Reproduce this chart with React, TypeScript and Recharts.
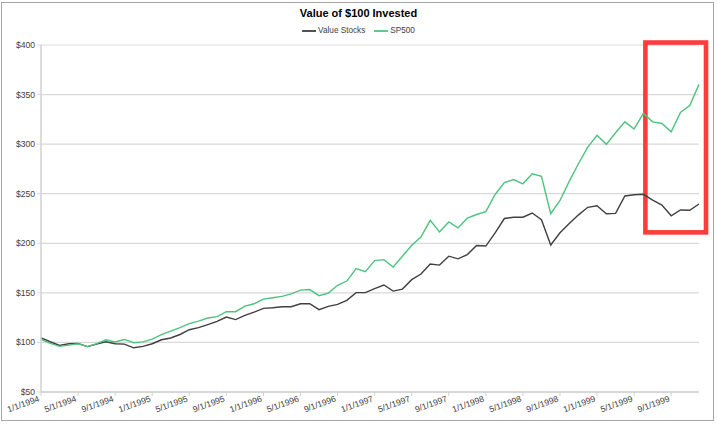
import React from 'react';
import { LineChart, Line, XAxis, YAxis, CartesianGrid, Legend, ReferenceArea } from 'recharts';

const years = [1994, 1995, 1996, 1997, 1998, 1999];
const dates: string[] = years.flatMap((y) => Array.from({ length: 12 }, (_, m) => `${m + 1}/1/${y}`));

const valueStocks = [
  104.7, 100.7, 97, 98.7, 99, 95.8, 98.3, 100.7, 98.7, 98.3, 94.6, 96,
  98.7, 102.7, 104.5, 108, 112.8, 115, 118, 121.2, 125.6, 123, 127.3, 130.6,
  134.3, 135, 136, 136, 139, 139, 133, 136.4, 138.4, 142.4, 150.2, 150.2,
  154.2, 157.9, 151.8, 153.8, 163.3, 169, 179.1, 178, 187, 184.3, 188.6, 197.7,
  197.2, 210.4, 225, 226.2, 226.3, 230.5, 223.8, 198.3, 210.6, 220, 228.7, 236.3,
  237.9, 229.8, 230.2, 247.7, 249, 249.4, 243.6, 238.6, 227.8, 233.6, 233.3, 239.6,
];

const sp500 = [
  103, 99, 96, 97.3, 98.7, 95.8, 98.7, 102.7, 100.5, 103, 99.7, 100.5,
  103.3, 107.8, 111.5, 115, 119, 121.5, 124.6, 126, 131, 131, 136.7, 139,
  143.7, 145, 146.5, 149, 152.8, 153.3, 147.2, 149.8, 157.6, 161.9, 174.4, 171.4,
  182.5, 183.5, 176, 186.9, 198, 206.4, 223.2, 211.4, 221.5, 215.5, 225.3, 229,
  232, 249.2, 261.2, 264.3, 260, 270, 267.5, 229.8, 243.2, 262.5, 280.5, 297,
  309, 299.8, 311.5, 322.5, 315.3, 331, 322.5, 320.8, 312.5, 332, 339, 360.3,
];

const yTicks = [50, 100, 150, 200, 250, 300, 350, 400];
const seriesNames = ['Value Stocks', 'SP500'];
const seriesColors = ['#404040', '#4cc47e'];

const data = dates.map((d, i) => ({ date: d, value: valueStocks[i], sp: sp500[i] }));

const FONT = '"Liberation Sans", Arial, sans-serif';
const TICK_COLOR = '#404040';

const XTick = (props: any) => {
  const { x, y, payload } = props;
  return (
    <g transform={`translate(${x},${y})`}>
      <text
        transform="translate(-1,3) rotate(-20)"
        x={0}
        y={0}
        textAnchor="end"
        fill={TICK_COLOR}
        fontSize={8.6}
        fontFamily={FONT}
      >
        {payload.value}
      </text>
    </g>
  );
};

const LegendContent = () => (
  <div
    style={{
      display: 'flex',
      justifyContent: 'center',
      alignItems: 'center',
      height: 10,
      lineHeight: '10px',
      fontSize: 8.2,
      fontFamily: FONT,
      color: '#404040',
    }}
  >
    {seriesNames.map((n, i) => (
      <span key={n} style={{ display: 'flex', alignItems: 'center', marginRight: i === 0 ? 9 : 0 }}>
        <svg width={14} height={4} style={{ marginRight: 2 }}>
          <line x1={0} y1={2} x2={14} y2={2} stroke={seriesColors[i]} strokeWidth={1.8} />
        </svg>
        <span>{n}</span>
      </span>
    ))}
  </div>
);

const RedBox = (p: any) => (
  <rect
    x={p.x + 2}
    y={p.y}
    width={p.width + 5}
    height={p.height}
    fill="none"
    stroke="#ff3b3b"
    strokeWidth={4.6}
  />
);

export default function App() {
  return (
    <div
      style={{
        position: 'absolute',
        left: 0,
        top: 0,
        width: 717,
        height: 424,
        background: '#fff',
        fontFamily: FONT,
      }}
    >
      <div
        style={{
          position: 'absolute',
          left: 1,
          top: 2,
          width: 711,
          height: 417,
          border: '1px solid #a6a6a6',
        }}
      />
      <div
        style={{
          position: 'absolute',
          left: 0,
          top: 7,
          width: 717,
          textAlign: 'center',
          fontSize: 11,
          lineHeight: '13px',
          fontWeight: 'bold',
          color: '#000',
        }}
      >
        Value of $100 Invested
      </div>
      <LineChart width={717} height={424} data={data} margin={{ top: 45, right: 18, bottom: 2, left: 6 }}>
        <CartesianGrid vertical={false} stroke="#d9d9d9" strokeWidth={1.2} />
        <XAxis
          dataKey="date"
          interval={3}
          height={30}
          tick={<XTick />}
          tickSize={4}
          tickMargin={2}
          axisLine={{ stroke: '#d0d0d0', strokeWidth: 1.5 }}
          tickLine={{ stroke: '#d0d0d0' }}
        />
        <YAxis
          domain={[50, 400]}
          ticks={yTicks}
          width={35}
          tickSize={4}
          tickMargin={2}
          tickFormatter={(v: number) => `$${v}`}
          tick={{ fontSize: 8.6, fill: TICK_COLOR, fontFamily: FONT }}
          axisLine={{ stroke: '#d0d0d0', strokeWidth: 1.5 }}
          tickLine={{ stroke: '#d9d9d9' }}
        />
        <Legend verticalAlign="middle" content={<LegendContent />} wrapperStyle={{ top: 26, left: 0, width: 717 }} />
        <Line
          type="linear"
          dataKey="value"
          name={seriesNames[0]}
          stroke={seriesColors[0]}
          strokeWidth={1.4}
          dot={false}
          isAnimationActive={false}
        />
        <Line
          type="linear"
          dataKey="sp"
          name={seriesNames[1]}
          stroke={seriesColors[1]}
          strokeWidth={1.4}
          dot={false}
          isAnimationActive={false}
        />
        <ReferenceArea
          x1={dates[65]}
          x2={dates[71]}
          y1={211}
          y2={402.5}
          ifOverflow="visible"
          shape={RedBox}
        />
      </LineChart>
    </div>
  );
}
